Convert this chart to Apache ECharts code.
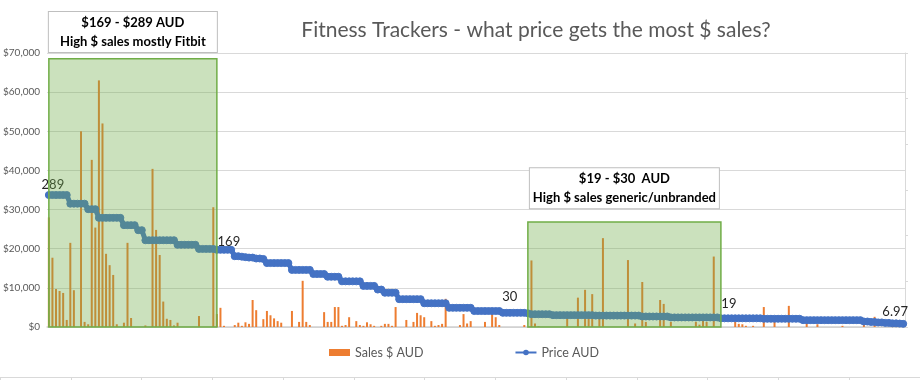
<!DOCTYPE html>
<html>
<head>
<meta charset="utf-8">
<script src="https://cdn.jsdelivr.net/npm/echarts@6/dist/echarts.min.js"></script>
<style>html,body{margin:0;padding:0;background:#fff}#c{width:920px;height:380px}</style>
</head>
<body>
<div id="c"></div>
<script>
// ---- data ----
const titleText = 'Fitness Trackers - what price gets the most $ sales?';
const seriesNames = ['Sales $ AUD', 'Price AUD'];
const yTicks = [0, 10000, 20000, 30000, 40000, 50000, 60000, 70000];

// Sales $ AUD per product (240 products, sorted by price)
const sales = [
 28000,17700,9700,9200,8700,1800,21500,9400,0,50000,
 1300,700,42700,25400,63000,52000,18700,15800,13300,700,
 0,1100,21500,2300,0,0,0,400,0,40400,
 24800,18400,6500,2100,1800,400,1100,0,0,0,
 0,0,2800,0,0,0,30600,3300,4900,300,
 0,0,500,1100,300,1200,800,6900,4300,0,
 2000,4100,3000,2200,1500,1100,0,0,4100,0,
 1300,11800,1300,500,0,0,0,3800,1300,1300,
 5100,5100,300,500,2500,0,1500,500,300,1200,
 700,300,0,300,800,800,300,5100,0,0,
 1800,0,1300,3600,3000,2500,0,1500,300,500,
 800,7200,0,0,0,500,3300,900,1500,0,
 0,0,1300,0,3300,2500,500,0,0,0,
 0,0,0,500,0,17000,900,200,0,0,
 0,0,0,0,0,2600,0,0,7500,0,
 9500,2600,8400,0,2600,22700,0,0,0,0,
 0,0,17100,0,900,0,11500,1300,0,0,
 0,6900,5900,0,1300,0,0,0,0,0,
 0,1300,600,3300,1300,0,18000,0,0,0,
 0,0,1400,800,700,300,0,300,0,0,
 5100,0,0,1400,0,0,0,5400,0,0,
 0,0,1400,0,0,700,0,0,0,0,
 0,0,300,0,0,0,0,0,700,0,
 0,2600,0,0,0,0,500,700,0,0
];

// Price AUD per product
const price = [
 289,289,289,289,289,289,270,270,270,270,
 270,258,258,258,239,239,239,239,239,239,
 239,223,223,223,223,212,212,190,190,190,
 190,190,190,190,190,190,180,180,180,180,
 180,180,171,171,171,171,171,169,169,169,
 169,169,155,155,154,153,152,152,150,150,
 149,140,140,140,140,140,140,140,125,125,
 125,125,125,125,116,116,116,116,110,110,
 110,110,100,100,100,100,100,100,90,90,
 90,90,82,82,75,75,75,75,61,61,
 61,61,61,61,61,52,52,52,52,52,
 52,52,42,42,42,42,42,42,42,35,
 35,35,35,35,35,35,35,31,31,31,
 31,31,31,31,30,28,28,28,28,28,
 28,26,26,26,26,26,26,26,26,26,
 26,26,26,25,25,25,25,25,25,25,
 25,25,25,25,25,25,23,23,23,23,
 23,23,23,23,21,21,21,21,21,21,
 21,21,21,21,21,21,21,21,19,19,
 19,19,19,19,19,19,19,19,19,19,
 18,18,18,18,18,18,18,18,18,18,
 18,15,15,15,15,15,15,15,15,15,
 15,15,15,15,15,15,15,15,12,12,
 11,11,10,10,9,9,8,8,7.5,6.97
];

const categories = price.map((p, i) => 'P' + (i + 1));
const labelledPoints = [0, 47, 134, 188, 239];

const boxes = [
  {from: 0, to: 47, top: 68500, text: '$169 - $289 AUD\nHigh $ sales mostly Fitbit'},
  {from: 134, to: 188, top: 26800, text: '$19 - $30  AUD\nHigh $ sales generic/unbranded'}
];

// ---- chart ----
const FONT = 'Lato, "Liberation Sans", sans-serif';
const chart = echarts.init(document.getElementById('c'), null, {renderer: 'canvas'});

const labelOffsets = {0: [4, 5], 47: [12, 7], 134: [-18, -1], 188: [8, 1], 239: [-8, 3]};
const labelNames = {0: '289', 47: '169', 134: '30', 188: '19', 239: '6.97'};
const priceData = price.map((v, i) => {
  if (labelledPoints.indexOf(i) >= 0) {
    return {value: v, label: {show: true, position: 'top', offset: labelOffsets[i], formatter: labelNames[i],
      fontSize: 13, color: '#262626', fontFamily: FONT}};
  }
  return v;
});

const boxLabelDist = [6, 13];
const areaData = boxes.map((b, k) => [
  {xAxis: b.from, yAxis: 0, name: b.text,
   label: {distance: boxLabelDist[k], width: (k === 0 ? 168 : 189)}},
  {xAxis: b.to, yAxis: b.top}
]);

chart.setOption({
  animation: false,
  backgroundColor: '#fff',
  textStyle: {fontFamily: FONT},
  title: {
    text: titleText, left: 531, top: 15, textAlign: 'center',
    textStyle: {fontSize: 21, fontWeight: 'normal', color: '#595959', fontFamily: FONT}
  },
  legend: {
    data: [{name: seriesNames[0], icon: 'rect'}, {name: seriesNames[1]}],
    left: 329, top: 346, padding: 0, itemWidth: 21, itemHeight: 7, itemGap: 91,
    textStyle: {fontSize: 12.5, color: '#595959', fontFamily: FONT}
  },
  grid: [
    {left: 47, right: 15, top: 53, bottom: 53, containLabel: false},
    {left: -15, width: 936, top: 370, height: 7}
  ],
  xAxis: [
    {type: 'category', data: categories, gridIndex: 0,
     axisLine: {lineStyle: {color: '#D0D0D0', width: 1.5}},
     axisTick: {show: false}, axisLabel: {show: false}},
    {type: 'category', data: ['', '', '', '', '', '', '', '', '', '', '', '', ''], gridIndex: 1,
     axisLine: {lineStyle: {color: '#D9D9D9'}},
     axisTick: {show: true, length: 4, interval: 0, lineStyle: {color: '#D9D9D9'}},
     axisLabel: {show: false}}
  ],
  yAxis: [
    {type: 'value', min: yTicks[0], max: yTicks[yTicks.length - 1], interval: 10000, gridIndex: 0,
     axisLine: {show: false}, axisTick: {show: false},
     splitLine: {lineStyle: {color: '#D9D9D9', width: 1}},
     axisLabel: {fontSize: 10, color: '#595959', margin: 7, fontFamily: FONT,
       formatter: v => '$' + v.toLocaleString('en-US')}},
    {type: 'value', min: 0, max: 600, interval: 100, position: 'right', gridIndex: 0,
     axisLine: {show: true, lineStyle: {color: '#D9D9D9'}},
     axisTick: {show: true, length: 3, lineStyle: {color: '#D9D9D9'}},
     axisLabel: {show: false}, splitLine: {show: false}},
    {type: 'value', gridIndex: 1, show: false}
  ],
  series: [
    {name: seriesNames[0], type: 'bar', data: sales, barWidth: 2, barGap: '0%',
     itemStyle: {color: '#ED7D31'}, xAxisIndex: 0, yAxisIndex: 0},
    {name: seriesNames[1], type: 'line', data: priceData, yAxisIndex: 1, xAxisIndex: 0,
     symbol: 'circle', symbolSize: 7, showAllSymbol: true,
     lineStyle: {color: '#4472C4', width: 5},
     itemStyle: {color: '#4472C4', borderColor: '#4472C4'}},
    {name: 'boxes', type: 'line', data: [], xAxisIndex: 0, yAxisIndex: 0, z: 10,
     markArea: {
       silent: true, z: 10,
       itemStyle: {color: 'rgba(112,173,71,0.36)', borderColor: '#70AD47', borderWidth: 1.5},
       label: {show: true, position: 'top', formatter: '{b}', fontSize: 13, fontWeight: 'bold',
         color: '#000', lineHeight: 19, align: 'center', backgroundColor: '#fff',
         borderColor: '#BFBFBF', borderWidth: 1, padding: [1, 0, 1, 0], fontFamily: FONT},
       data: areaData
     }}
  ]
});
</script>
</body>
</html>
